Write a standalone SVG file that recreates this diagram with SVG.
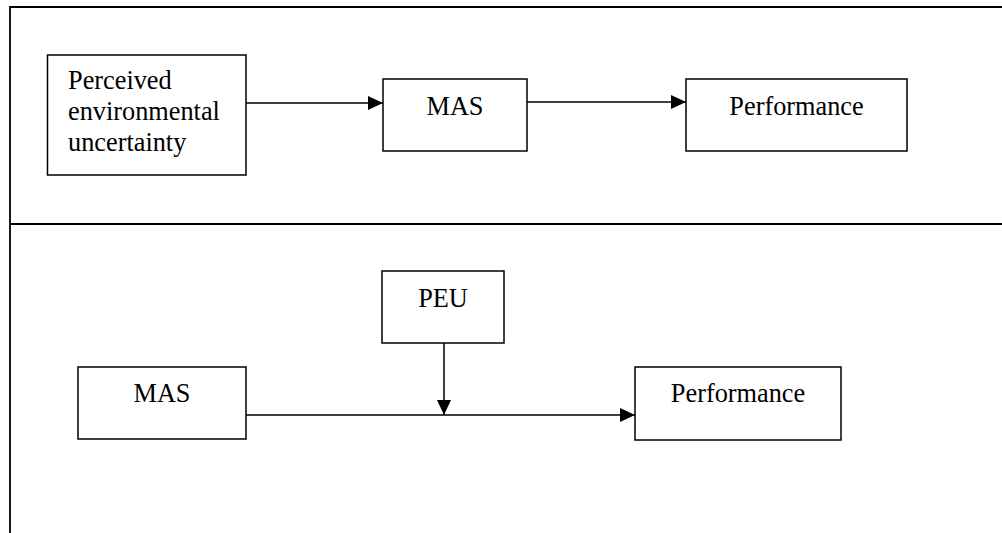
<svg xmlns="http://www.w3.org/2000/svg" width="1002" height="533" viewBox="0 0 1002 533">
  <defs>
    <marker id="arrow" viewBox="0 0 15 14" refX="15" refY="7" markerWidth="15" markerHeight="14" markerUnits="userSpaceOnUse" orient="auto">
      <path d="M0,0 L15,7 L0,14 Z" fill="#000"/>
    </marker>
  </defs>
  <style>
    .frame { stroke: #000; stroke-width: 1.8; fill: none; }
    .box { fill: #fff; stroke: #000; stroke-width: 1.5; }
    .label { font-family: "Liberation Serif", "Times New Roman", serif; font-size: 26.3px; fill: #000; }
    .mid { text-anchor: middle; }
    .link { stroke: #000; stroke-width: 1.5; fill: none; }
  </style>
  <rect width="1002" height="533" fill="#fff"/>

  <!-- panel frame -->
  <g id="frame">
    <line class="frame" x1="10" y1="7" x2="1002" y2="7"/>
    <line class="frame" x1="10" y1="224" x2="1002" y2="224"/>
    <line class="frame" x1="10" y1="6" x2="10" y2="533"/>
  </g>

  <!-- connectors -->
  <g id="connectors">
    <line class="link" x1="246" y1="103" x2="383" y2="103" marker-end="url(#arrow)"/>
    <line class="link" x1="527" y1="102" x2="686" y2="102" marker-end="url(#arrow)"/>
    <line class="link" x1="246" y1="415" x2="635" y2="415" marker-end="url(#arrow)"/>
    <line class="link" x1="444" y1="343" x2="444" y2="415" marker-end="url(#arrow)"/>
  </g>

  <!-- top panel -->
  <g id="peu-long">
    <rect class="box" x="47.5" y="55" width="198.5" height="120"/>
    <text class="label" x="68" y="89">Perceived</text>
    <text class="label" x="68" y="120">environmental</text>
    <text class="label" x="68" y="151">uncertainty</text>
  </g>
  <g id="mas-top">
    <rect class="box" x="383" y="79" width="144" height="72"/>
    <text class="label mid" x="455" y="115">MAS</text>
  </g>
  <g id="performance-top">
    <rect class="box" x="686" y="79" width="221" height="72"/>
    <text class="label mid" x="796.5" y="115">Performance</text>
  </g>

  <!-- bottom panel -->
  <g id="peu">
    <rect class="box" x="382" y="271" width="122" height="72"/>
    <text class="label mid" x="443" y="307">PEU</text>
  </g>
  <g id="mas-bottom">
    <rect class="box" x="78" y="367" width="168" height="72"/>
    <text class="label mid" x="162" y="402">MAS</text>
  </g>
  <g id="performance-bottom">
    <rect class="box" x="635" y="367" width="206" height="73"/>
    <text class="label mid" x="738" y="402">Performance</text>
  </g>
</svg>
